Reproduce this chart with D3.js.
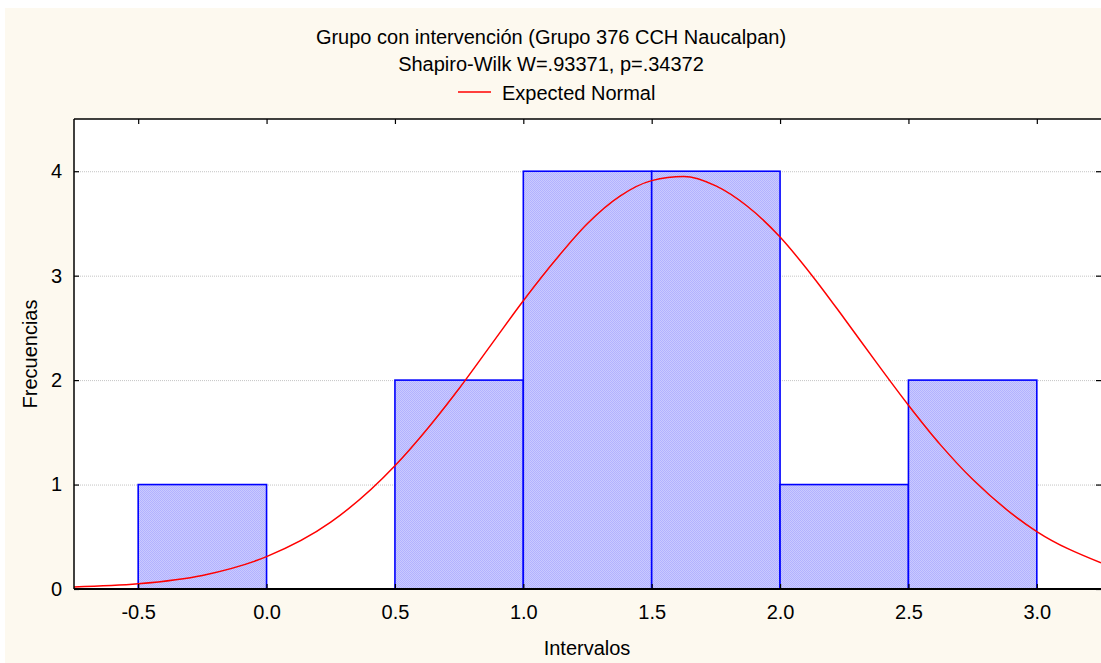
<html>
<head>
  <title>Grupo con intervención</title>
  <script src="https://d3js.org/d3.v7.min.js"></script>
  <style>
    html, body { margin:0; padding:0; overflow:hidden; background:#ffffff }
    text { font-family: "Liberation Sans", Arial, sans-serif; fill:#000 }
  </style>
</head>
<body>
  <div class="chart"></div>
  <script>

    // histogram bins (lower edge, upper edge) and counts
    var binStart = [-0.5, 0.0, 0.5, 1.0, 1.5, 2.0, 2.5];
    var binEnd   = [ 0.0, 0.5, 1.0, 1.5, 2.0, 2.5, 3.0];
    var counts   = [ 1, 0, 2, 4, 4, 1, 2];

    // expected normal curve
    var curveX = [-0.75, -0.5, -0.25, 0.0, 0.25, 0.5, 0.625, 0.75, 0.875, 1.0, 1.125, 1.25, 1.375, 1.5, 1.625,
                  1.75, 1.875, 2.0, 2.125, 2.25, 2.375, 2.5, 2.625, 2.75, 3.0, 3.25];
    var curveY = [0.02, 0.05, 0.13, 0.31, 0.64, 1.18, 1.53, 1.92, 2.34, 2.76, 3.15, 3.50, 3.76, 3.91, 3.95,
                  3.86, 3.66, 3.37, 3.00, 2.59, 2.17, 1.76, 1.38, 1.05, 0.55, 0.25];

    var xTicks = [-0.5, 0.0, 0.5, 1.0, 1.5, 2.0, 2.5, 3.0];
    var yTicks = [0, 1, 2, 3, 4];

    (function() {
    var W = 1101, H = 663;
    var pLeft = 74, pTop = 119, pRight = 1101, pBottom = 589;

    var svg = d3.select("div.chart").append("svg")
      .attr("width", W)
      .attr("height", H);

    // cream panel
    svg.append("rect")
      .attr("x", 5).attr("y", 8)
      .attr("width", W - 5).attr("height", H - 8)
      .attr("fill", "#fdf9ef");

    // checkered fill of the bars
    var defs = svg.append("defs");
    var pat = defs.append("pattern")
      .attr("id", "checks")
      .attr("patternUnits", "userSpaceOnUse")
      .attr("width", 2).attr("height", 2);
    pat.append("rect").attr("width", 2).attr("height", 2).attr("fill", "#cacaff");
    pat.append("rect").attr("width", 1).attr("height", 1).attr("fill", "#b2b2ff");
    pat.append("rect").attr("x", 1).attr("y", 1).attr("width", 1).attr("height", 1).attr("fill", "#b2b2ff");

    defs.append("clipPath").attr("id", "plotclip")
      .append("rect")
      .attr("x", pLeft).attr("y", pTop)
      .attr("width", pRight - pLeft).attr("height", pBottom - pTop);

    var x = d3.scaleLinear().domain([-0.75, 3.25]).range([pLeft, pRight]);
    var y = d3.scaleLinear().domain([0, 4.5]).range([pBottom, pTop]);

    // white plot area
    svg.append("rect")
      .attr("x", pLeft).attr("y", pTop)
      .attr("width", pRight - pLeft).attr("height", pBottom - pTop)
      .attr("fill", "#ffffff");

    // gridlines
    svg.append("g").selectAll("line")
      .data(yTicks.filter(function(d) { return d > 0; }))
      .enter().append("line")
      .attr("x1", pLeft).attr("x2", pRight)
      .attr("y1", function(d) { return y(d) + 0.5; })
      .attr("y2", function(d) { return y(d) + 0.5; })
      .attr("stroke", "#c4c4c4")
      .attr("stroke-width", 1)
      .attr("stroke-dasharray", "1,1");

    // bars
    var barData = counts.map(function(c, i) { return {a: binStart[i], b: binEnd[i], n: c}; })
      .filter(function(d) { return d.n > 0; });

    svg.append("g").selectAll("rect")
      .data(barData)
      .enter().append("rect")
      .attr("x", function(d) { return x(d.a); })
      .attr("y", function(d) { return y(d.n); })
      .attr("width", function(d) { return x(d.b) - x(d.a); })
      .attr("height", function(d) { return y(0) - y(d.n); })
      .attr("fill", "url(#checks)")
      .attr("stroke", "#0000ff")
      .attr("stroke-width", 1.6);

    // expected normal
    var pts = curveX.map(function(v, i) { return [v, curveY[i]]; });
    var line = d3.line()
      .x(function(d) { return x(d[0]); })
      .y(function(d) { return y(d[1]); })
      .curve(d3.curveMonotoneX);

    svg.append("path")
      .datum(pts)
      .attr("d", line)
      .attr("clip-path", "url(#plotclip)")
      .attr("fill", "none")
      .attr("stroke", "#ff0000")
      .attr("stroke-width", 1.5);

    // axes
    var fmt = function(d) { return d3.format(".1f")(d).replace("\u2212", "-"); };

    var xAxis = svg.append("g")
      .attr("transform", "translate(0," + pBottom + ")")
      .call(d3.axisBottom(x).tickValues(xTicks).tickFormat(fmt).tickSizeInner(-5).tickSizeOuter(0).tickPadding(16));
    var xTop = svg.append("g")
      .attr("transform", "translate(0," + pTop + ")")
      .call(d3.axisTop(x).tickValues(xTicks).tickFormat("").tickSizeInner(-5).tickSizeOuter(0));
    var yAxis = svg.append("g")
      .attr("transform", "translate(" + pLeft + ",0)")
      .call(d3.axisLeft(y).tickValues(yTicks).tickFormat(d3.format("d")).tickSizeInner(-5).tickSizeOuter(0).tickPadding(12));
    var yRight = svg.append("g")
      .attr("transform", "translate(" + pRight + ",0)")
      .call(d3.axisRight(y).tickValues(yTicks).tickFormat("").tickSizeInner(-5).tickSizeOuter(0));

    [xAxis, xTop, yAxis, yRight].forEach(function(g) {
      g.select(".domain").remove();
      g.selectAll(".tick line").attr("stroke", "#000").attr("stroke-width", 1.2);
      g.selectAll("text").attr("font-family", "Liberation Sans, Arial, sans-serif")
        .attr("font-size", 20).attr("fill", "#000");
    });

    // frame
    svg.append("line").attr("x1", pLeft).attr("x2", pRight).attr("y1", pTop).attr("y2", pTop)
      .attr("stroke", "#000").attr("stroke-width", 1.5);
    svg.append("line").attr("x1", pLeft).attr("x2", pLeft).attr("y1", pTop).attr("y2", pBottom)
      .attr("stroke", "#000").attr("stroke-width", 1.5);
    svg.append("line").attr("x1", pLeft).attr("x2", pRight).attr("y1", pBottom).attr("y2", pBottom)
      .attr("stroke", "#000").attr("stroke-width", 2);

    // titles
    svg.append("text")
      .attr("x", 551).attr("y", 44)
      .attr("text-anchor", "middle").attr("font-size", 20)
      .text("Grupo con intervención (Grupo 376 CCH Naucalpan)");
    svg.append("text")
      .attr("x", 551).attr("y", 71)
      .attr("text-anchor", "middle").attr("font-size", 20)
      .text("Shapiro-Wilk W=.93371, p=.34372");

    // legend
    svg.append("line")
      .attr("x1", 458).attr("x2", 491).attr("y1", 92).attr("y2", 92)
      .attr("stroke", "#ff0000").attr("stroke-width", 1.5);
    svg.append("text")
      .attr("x", 502).attr("y", 100).attr("font-size", 20)
      .text("Expected Normal");

    // axis titles
    svg.append("text")
      .attr("x", 587).attr("y", 655)
      .attr("text-anchor", "middle").attr("font-size", 20)
      .text("Intervalos");
    svg.append("text")
      .attr("transform", "translate(37,354) rotate(-90)")
      .attr("text-anchor", "middle").attr("font-size", 20)
      .text("Frecuencias");
    })();

  </script>
</body>
</html>
